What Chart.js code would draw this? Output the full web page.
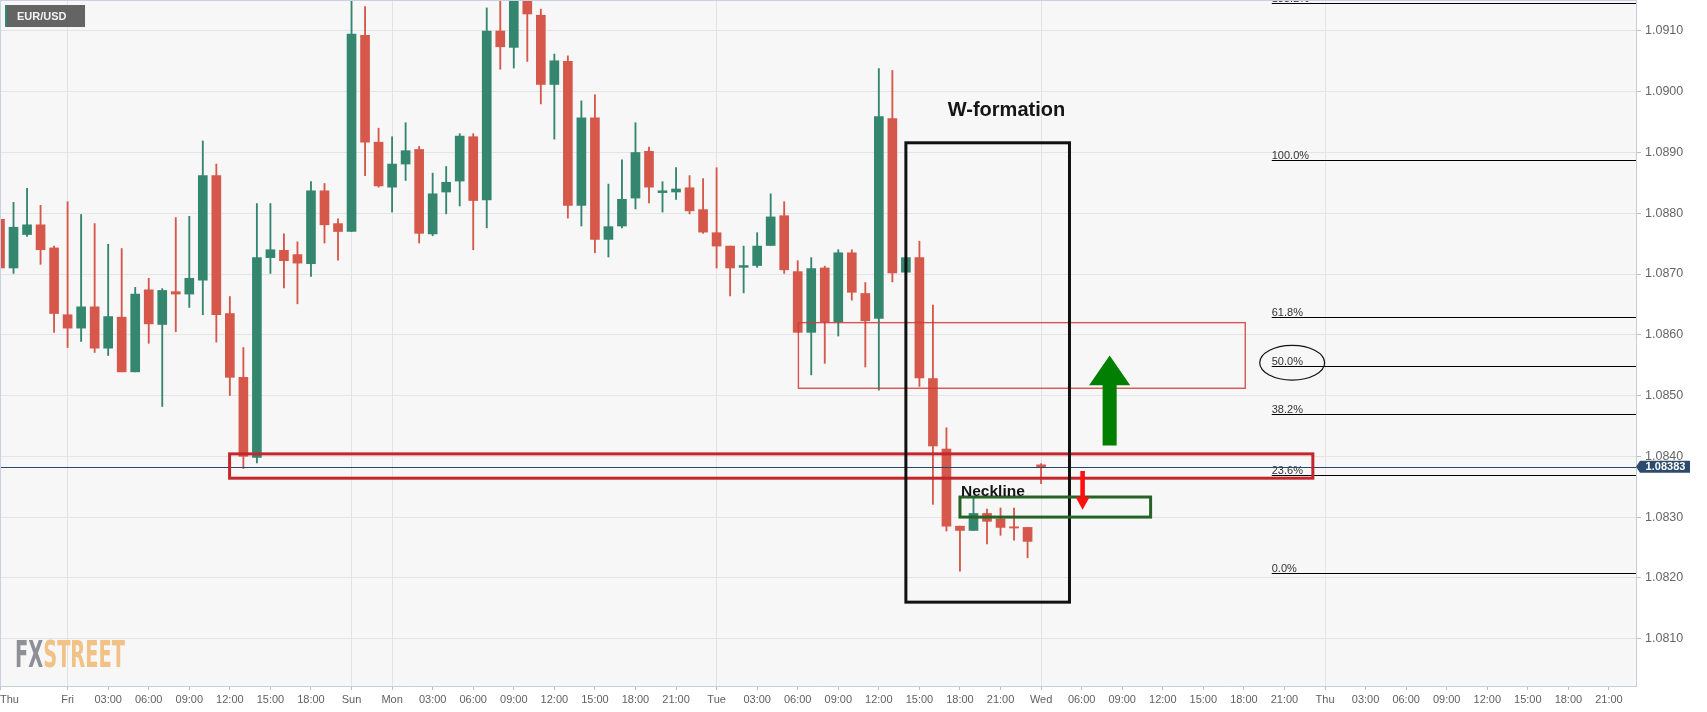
<!DOCTYPE html>
<html>
<head>
<meta charset="utf-8">
<script src="https://cdn.jsdelivr.net/npm/chart.js@4.4.1/dist/chart.umd.min.js"></script>
<style>
html,body{margin:0;padding:0;background:#fff;}
canvas{display:block;}
</style>
</head>
<body>
<canvas id="c" width="1707" height="712"></canvas>
<script>
// ---------- data (hourly EUR/USD candles, slot index 0 .. 77) ----------
const symbol = 'EUR/USD';
const opens  = [1.0879,1.0871,1.08765,1.08781,1.08743,1.08633,1.08611,1.08646,1.08578,1.08629,
                1.08539,1.08674,1.08617,1.08671,1.08667,1.0869,1.08862,1.08635,1.0853,1.08398,
                1.08727,1.08739,1.08732,1.08717,1.08837,1.08783,1.0877,1.09093,1.08917,1.08843,
                1.08881,1.08905,1.08766,1.08835,1.08853,1.08926,1.08822,1.0910,1.09073,1.0917,
                1.09126,1.09012,1.0905,1.08813,1.08957,1.08757,1.08779,1.08825,1.08902,1.08834,
                1.08835,1.08842,1.08806,1.08768,1.08746,1.08711,1.08714,1.08747,1.08796,1.08704,
                1.08604,1.0871,1.08621,1.08735,1.08668,1.08627,1.08956,1.08703,1.08727,1.08528,
                1.08412,1.08285,1.08278,1.08306,1.08297,1.08284,1.08283,1.08386];
const highs  = [1.0881,1.08818,1.08841,1.08813,1.08746,1.08819,1.08798,1.08783,1.08749,1.08742,
                1.08678,1.08693,1.08676,1.08793,1.08795,1.08919,1.08881,1.08663,1.08579,1.08816,
                1.08816,1.08766,1.08753,1.08852,1.08849,1.08791,1.0916,1.0914,1.0894,1.08926,
                1.08949,1.0891,1.08866,1.08877,1.08931,1.08931,1.09138,1.0917,1.0919,1.0919,
                1.09136,1.09062,1.09059,1.08985,1.08995,1.08848,1.08888,1.08949,1.08909,1.08852,
                1.08875,1.08862,1.08857,1.08875,1.08746,1.08746,1.08768,1.08832,1.08819,1.08722,
                1.08727,1.08713,1.0874,1.0874,1.08686,1.09038,1.09035,1.08727,1.08754,1.08649,
                1.08447,1.08285,1.08332,1.08313,1.08315,1.08315,1.08283,1.08388];
const lows   = [1.0868,1.08701,1.08762,1.08716,1.08604,1.08579,1.08589,1.08571,1.08566,1.08539,
                1.08539,1.08586,1.08482,1.08605,1.08645,1.08633,1.08588,1.0850,1.0838,1.08389,
                1.08701,1.08677,1.08651,1.08696,1.08751,1.08723,1.0877,1.08862,1.08843,1.08802,
                1.08854,1.08751,1.08763,1.08799,1.08812,1.0874,1.08776,1.09037,1.09039,1.0905,
                1.0898,1.08922,1.08792,1.08779,1.08735,1.08728,1.08776,1.08807,1.08817,1.08802,
                1.08823,1.08799,1.08767,1.0871,1.08664,1.08669,1.08711,1.08747,1.08701,1.08604,
                1.08534,1.08553,1.08598,1.08657,1.08547,1.08509,1.08687,1.08703,1.08515,1.08321,
                1.08277,1.08211,1.08278,1.08256,1.0827,1.08262,1.08233,1.08355];
const closes = [1.0871,1.08777,1.08781,1.0874,1.08635,1.08611,1.08646,1.08578,1.0863,1.08539,
                1.08667,1.08618,1.08673,1.08667,1.08693,1.08862,1.08633,1.0853,1.0840,1.08727,
                1.0874,1.08722,1.08718,1.08837,1.08781,1.0877,1.09095,1.08917,1.08845,1.08881,
                1.08903,1.08767,1.08832,1.08851,1.08927,1.08821,1.0910,1.09074,1.0917,1.09128,
                1.09012,1.09051,1.08813,1.08957,1.08757,1.08778,1.08823,1.089,1.08843,1.08837,
                1.0884,1.08804,1.08769,1.08746,1.0871,1.08714,1.08746,1.08794,1.08707,1.08604,
                1.08709,1.08621,1.08735,1.0867,1.08623,1.08959,1.08702,1.08727,1.08529,1.08417,
                1.08285,1.08278,1.08306,1.08293,1.08283,1.08282,1.0826,1.08383];
const lastPrice = 1.08383;

// time axis: slot positions of the labelled ticks and their labels
const xTickPositions = [0,5,8,11,14,17,20,23,26,29,32,35,38,41,44,47,50,53,56,59,62,65,68,71,74,
                        77,80,83,86,89,92,95,98,101,104,107,110,113,116,119];
const xTickLabels = ['Thu','Fri','03:00','06:00','09:00','12:00','15:00','18:00','Sun','Mon',
                     '03:00','06:00','09:00','12:00','15:00','18:00','21:00','Tue','03:00','06:00',
                     '09:00','12:00','15:00','18:00','21:00','Wed','06:00','09:00','12:00','15:00',
                     '18:00','21:00','Thu','03:00','06:00','09:00','12:00','15:00','18:00','21:00'];
const dayLabels = ['Fri','Sun','Mon','Tue','Wed','Thu'];
const priceTicks = [1.0810,1.0820,1.0830,1.0840,1.0850,1.0860,1.0870,1.0880,1.0890,1.0900,1.0910];

// Fibonacci retracement levels drawn on the right
const fibLevels = [1.09146,1.08887,1.08629,1.08549,1.08469,1.0837,1.08208];
const fibLabels = ['138.2%','100.0%','61.8%','50.0%','38.2%','23.6%','0.0%'];

// ---------- annotation definitions (data coordinates: slot index / price) ----------
const zones = [
  {x0:16.98, x1:97.1, y0:1.08364, y1:1.08404, color:'#c3262c', width:3},
  {x0:59.05, x1:92.1, y0:1.08512, y1:1.0862,  color:'rgba(208,58,58,0.85)', width:1.4},
  {x0:67.0,  x1:79.1, y0:1.0816,  y1:1.08916, color:'#111111', width:3},
  {x0:71.0,  x1:85.1, y0:1.0830,  y1:1.08333, color:'#276227', width:3}
];
const arrows = [
  {x:82.07, shaft:0.52, head:1.52, from:1.08418, base:1.08517, tip:1.08566, color:'#007f00'},
  {x:80.07, shaft:0.17, head:0.52, from:1.08376, base:1.08333, tip:1.08312, color:'#ff1010'}
];
const notes = [
  {text:'W-formation', x:70.1,  y:1.0896,  font:'bold 20px "Liberation Sans", Arial, sans-serif'},
  {text:'Neckline',    x:71.08, y:1.08334, font:'bold 15.5px "Liberation Sans", Arial, sans-serif'}
];
const fibStart = 94.06;
const ellipse = {x:95.57, y:1.08554, rx:2.4, ry:0.000285};

// ---------- datasets ----------
const upColor = '#34866f', downColor = '#d5584a';
const candleColors = opens.map((o,i) => closes[i] >= o ? upColor : downColor);
const bodies = opens.map((o,i) => ({x:i, y:[o, closes[i]]}));
const wicks  = opens.map((o,i) => ({x:i, y:[lows[i], highs[i]]}));

const fontFam = '"Liberation Sans", Arial, sans-serif';

const overlay = {
  id:'overlay',
  beforeDraw(chart){
    const {ctx, chartArea:a} = chart;
    ctx.save();
    ctx.fillStyle = '#ffffff';
    ctx.fillRect(0,0,chart.width,chart.height);
    ctx.fillStyle = '#f7f7f7';
    ctx.fillRect(a.left,a.top,a.right-a.left,a.bottom-a.top);
    ctx.restore();
  },
  beforeDatasetsDraw(chart){
    const {ctx, chartArea:a} = chart;
    // FXSTREET watermark
    ctx.save();
    ctx.font = 'bold 37px "DejaVu Sans Condensed", "DejaVu Sans", sans-serif';
    ctx.textBaseline = 'alphabetic';
    const w1 = ctx.measureText('FX').width, w2 = ctx.measureText('STREET').width;
    const sx = 110/(w1+w2);
    ctx.translate(a.left+15, a.bottom-19);
    ctx.scale(sx,1);
    ctx.fillStyle = '#8e9097';
    ctx.fillText('FX',0,0);
    ctx.fillStyle = '#f2c185';
    ctx.fillText('STREET',w1,0);
    ctx.restore();
  },
  afterDatasetsDraw(chart){
    const {ctx, chartArea:a, scales:{x,y}} = chart;
    const X = v => x.getPixelForValue(v), Y = v => y.getPixelForValue(v);
    ctx.save();
    ctx.beginPath(); ctx.rect(a.left,a.top,a.right-a.left,a.bottom-a.top); ctx.clip();

    // fib lines and labels
    ctx.strokeStyle = '#000'; ctx.lineWidth = 1.2;
    ctx.fillStyle = '#333'; ctx.font = '11px '+fontFam; ctx.textAlign='left'; ctx.textBaseline='alphabetic';
    fibLevels.forEach((lv,i)=>{
      const py = Math.round(Y(lv))+0.5;
      ctx.beginPath(); ctx.moveTo(X(fibStart),py); ctx.lineTo(a.right,py); ctx.stroke();
      ctx.fillText(fibLabels[i], X(fibStart), py-1.5);
    });
    // ellipse around 50%
    ctx.beginPath();
    ctx.ellipse(X(ellipse.x), Y(ellipse.y), X(ellipse.x+ellipse.rx)-X(ellipse.x), Y(ellipse.y-ellipse.ry)-Y(ellipse.y), 0, 0, Math.PI*2);
    ctx.lineWidth = 1.2; ctx.strokeStyle='#111'; ctx.stroke();

    // last price line
    const lp = Math.round(Y(lastPrice))+0.5;
    ctx.strokeStyle = '#2d4470'; ctx.lineWidth = 1;
    ctx.beginPath(); ctx.moveTo(a.left,lp); ctx.lineTo(a.right,lp); ctx.stroke();

    // zones
    zones.forEach(z=>{
      ctx.strokeStyle = z.color; ctx.lineWidth = z.width;
      ctx.strokeRect(X(z.x0), Y(z.y1), X(z.x1)-X(z.x0), Y(z.y0)-Y(z.y1));
    });
    // arrows
    arrows.forEach(ar=>{
      ctx.fillStyle = ar.color;
      ctx.beginPath();
      ctx.moveTo(X(ar.x), Y(ar.tip));
      ctx.lineTo(X(ar.x+ar.head), Y(ar.base));
      ctx.lineTo(X(ar.x+ar.shaft), Y(ar.base));
      ctx.lineTo(X(ar.x+ar.shaft), Y(ar.from));
      ctx.lineTo(X(ar.x-ar.shaft), Y(ar.from));
      ctx.lineTo(X(ar.x-ar.shaft), Y(ar.base));
      ctx.lineTo(X(ar.x-ar.head), Y(ar.base));
      ctx.closePath(); ctx.fill();
    });
    // notes
    ctx.fillStyle = '#151515'; ctx.textAlign='left'; ctx.textBaseline='alphabetic';
    notes.forEach(n=>{ ctx.font = n.font; ctx.fillText(n.text, X(n.x), Y(n.y)); });
    ctx.restore();
  },
  afterDraw(chart){
    const {ctx, chartArea:a, scales:{y}} = chart;
    ctx.save();
    // top / left frame
    ctx.strokeStyle = '#c8d0e2'; ctx.lineWidth = 1;
    ctx.beginPath(); ctx.moveTo(a.left, a.top+0.5); ctx.lineTo(a.right, a.top+0.5); ctx.stroke();
    ctx.beginPath(); ctx.moveTo(a.left+0.5, a.top); ctx.lineTo(a.left+0.5, a.bottom); ctx.stroke();
    // last price tag
    const py = y.getPixelForValue(lastPrice);
    ctx.fillStyle = '#2c4a6e';
    ctx.beginPath();
    ctx.moveTo(a.right, py);
    ctx.lineTo(a.right+4, py-6);
    ctx.lineTo(a.right+54, py-6);
    ctx.lineTo(a.right+54, py+6);
    ctx.lineTo(a.right+4, py+6);
    ctx.closePath(); ctx.fill();
    ctx.fillStyle = '#ffffff'; ctx.font = 'bold 11px '+fontFam;
    ctx.textAlign = 'center'; ctx.textBaseline = 'middle';
    ctx.fillText(lastPrice.toFixed(5), a.right+29.5, py+0.5);
    // symbol tag
    ctx.fillStyle = 'rgba(92,92,92,0.95)';
    ctx.fillRect(a.left+5, a.top+5, 80, 22);
    ctx.fillStyle = '#2e8b6e';
    ctx.fillRect(a.left+5, a.top+5, 2, 22);
    ctx.fillStyle = '#f2f2f2'; ctx.font = 'bold 11px '+fontFam;
    ctx.textAlign = 'left'; ctx.textBaseline = 'middle';
    ctx.fillText(symbol, a.left+17, a.top+16.5);
    ctx.restore();
  }
};

new Chart(document.getElementById('c'), {
  type:'bar',
  data:{
    datasets:[
      {label:'body', data:bodies, backgroundColor:candleColors, borderWidth:0,
       barThickness:9, grouped:false, order:0, minBarLength:1},
      {label:'wick', data:wicks, backgroundColor:candleColors, borderWidth:0,
       barThickness:1.2, grouped:false, order:1}
    ]
  },
  options:{
    responsive:false, animation:false, events:[],
    layout:{padding:0},
    plugins:{legend:{display:false}, tooltip:{enabled:false}},
    scales:{
      x:{
        type:'linear', min:0, max:121, offset:false, bounds:'data',
        grid:{offset:false, lineWidth:1, drawTicks:true, tickLength:4,
          color: c => (c.tick && c.index>0 && dayLabels.includes(xTickLabels[c.index])) ? '#e3e3e3' : 'rgba(0,0,0,0)',
          tickColor: c => (c.tick && c.index < xTickLabels.length) ? '#b9c0d0' : 'rgba(0,0,0,0)'},
        border:{color:'#c5cde0', width:1},
        ticks:{autoSkip:false, maxRotation:0, minRotation:0, align:'inner', padding:3,
          color:'#5f5f5f', font:{family:fontFam, size:11},
          callback:(v,i)=> xTickLabels[i] !== undefined ? xTickLabels[i] : ''},
        afterBuildTicks: s => { s.ticks = xTickPositions.map(v=>({value:v})).concat([{value:121}]); },
        afterFit: s => { s.height = 26; s.paddingLeft = 0; s.paddingRight = 0; }
      },
      y:{
        type:'linear', position:'right', min:1.08022, max:1.09151, bounds:'data',
        grid:{color:'#e4e4e4', tickColor:'#b9c0d0', tickLength:5, lineWidth:1},
        border:{color:'#c5cde0', width:1},
        ticks:{padding:4, color:'#666', font:{family:fontFam, size:12.5},
          callback: v => Number(v).toFixed(4)},
        afterBuildTicks: s => { s.ticks = priceTicks.map(v=>({value:v})); },
        afterFit: s => { s.width = 71; s.paddingTop = 0; s.paddingBottom = 0; }
      }
    }
  },
  plugins:[overlay]
});
</script>
</body>
</html>
